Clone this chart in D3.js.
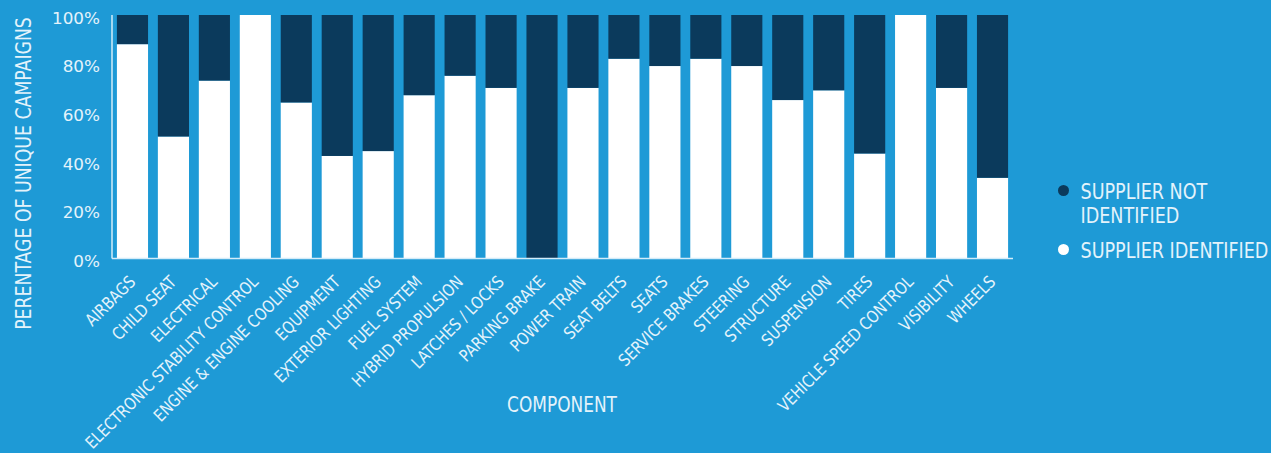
<!DOCTYPE html>
<html><head><meta charset="utf-8">
<script src="https://cdn.jsdelivr.net/npm/d3@7/dist/d3.min.js"></script>
<style>
html,body{margin:0;padding:0;background:#1E9AD6;}
svg{display:block;}
text{font-family:"DejaVu Sans Condensed","DejaVu Sans",sans-serif;fill:#E4F3FB;}
</style></head>
<body>
<svg id="chart" width="1271" height="453"></svg>
<script>
const categories = ["AIRBAGS","CHILD SEAT","ELECTRICAL","ELECTRONIC STABILITY CONTROL","ENGINE & ENGINE COOLING","EQUIPMENT","EXTERIOR LIGHTING","FUEL SYSTEM","HYBRID PROPULSION","LATCHES / LOCKS","PARKING BRAKE","POWER TRAIN","SEAT BELTS","SEATS","SERVICE BRAKES","STEERING","STRUCTURE","SUSPENSION","TIRES","VEHICLE SPEED CONTROL","VISIBILITY","WHEELS"];
const supplierIdentified    = [88,50,73,100,64,42,44,67,75,70,0,70,82,79,82,79,65,69,43,100,70,33];
const supplierNotIdentified = [12,50,27,0,36,58,56,33,25,30,100,30,18,21,18,21,35,31,57,0,30,67];
const yTicks = [0,20,40,60,80,100];
const seriesNames = ["SUPPLIER NOT IDENTIFIED","SUPPLIER IDENTIFIED"];
const colors = {identified:"#FFFFFF", notIdentified:"#0B3A5C", axis:"#D3ECF9"};

const svg = d3.select("#chart");
const m = {left:112, right:1013, top:15, bottom:258};

const x = d3.scaleBand().domain(categories).range([m.left, m.right]).paddingInner(0.24).paddingOuter(0.12);
const y = d3.scaleLinear().domain([0,100]).range([m.bottom, m.top]);

const rows = categories.map((c,i)=>({cat:c, identified:supplierIdentified[i], notIdentified:supplierNotIdentified[i]}));
const stack = d3.stack().keys(["identified","notIdentified"])(rows);

svg.append("g").selectAll("g").data(stack).join("g")
  .attr("fill", d => colors[d.key])
  .selectAll("rect").data(d => d).join("rect")
  .attr("x", d => x(d.data.cat))
  .attr("width", x.bandwidth())
  .attr("y", d => y(d[1]))
  .attr("height", d => y(d[0]) - y(d[1]));

// axes lines
svg.append("line").attr("x1", m.left).attr("x2", m.left).attr("y1", m.top).attr("y2", m.bottom+0.5)
  .attr("stroke", colors.axis).attr("stroke-width", 1.5);
svg.append("line").attr("x1", m.left).attr("x2", m.right).attr("y1", m.bottom+0.5).attr("y2", m.bottom+0.5)
  .attr("stroke", colors.axis).attr("stroke-width", 1.5);

// helper: horizontal condensing factor so that a reference string gets a given width
function factor(node, target){ const l = node.getComputedTextLength(); return l>0 ? target/l : 1; }

// y tick labels
const yt = svg.append("g").selectAll("text").data(yTicks).join("text")
  .attr("dy", "0.35em").attr("text-anchor","end")
  .style("font-size","16.5px")
  .text(d => d + "%");
const fy = factor(yt.filter(d=>d===100).node(), 48);
yt.attr("transform", d => `translate(100,${y(d) + 3}) scale(${fy},1)`);

// x tick labels
const xt = svg.append("g").selectAll("text").data(categories).join("text")
  .attr("text-anchor","end")
  .style("font-size","17px")
  .text(d => d);
const fx = factor(xt.filter(d=>d==="ELECTRONIC STABILITY CONTROL").node(), 236);
xt.attr("transform", d => `translate(${x(d) + x.bandwidth()/2 + 4},${283}) rotate(-45) scale(${fx},1)`);

// axis titles
const ytl = svg.append("text").attr("text-anchor","middle").style("font-size","20.5px")
  .text("PERENTAGE OF UNIQUE CAMPAIGNS");
const fyt = factor(ytl.node(), 313);
ytl.attr("transform", `translate(31,${(17+330)/2}) rotate(-90) scale(${fyt},1)`);

const xtl = svg.append("text").attr("text-anchor","middle").style("font-size","20.5px")
  .text("COMPONENT");
const fxt = factor(xtl.node(), 110);
xtl.attr("transform", `translate(562,411.5) scale(${fxt},1)`);

// legend
const lg = svg.append("g");
lg.append("circle").attr("cx",1063.5).attr("cy",190.5).attr("r",5.5).attr("fill",colors.notIdentified);
lg.append("circle").attr("cx",1063.5).attr("cy",249.5).attr("r",5.5).attr("fill",colors.identified);
const legTexts = [["SUPPLIER NOT",199],["IDENTIFIED",223],[seriesNames[1],257.5]];
const lt = lg.selectAll("text.leg").data(legTexts).join("text").attr("class","leg")
  .style("font-size","20.5px").text(d => d[0]);
const fl = factor(lt.filter(d=>d[0]===seriesNames[1]).node(), 188);
lt.attr("transform", d => `translate(1080.5,${d[1]}) scale(${fl},1)`);
</script>
</body></html>
